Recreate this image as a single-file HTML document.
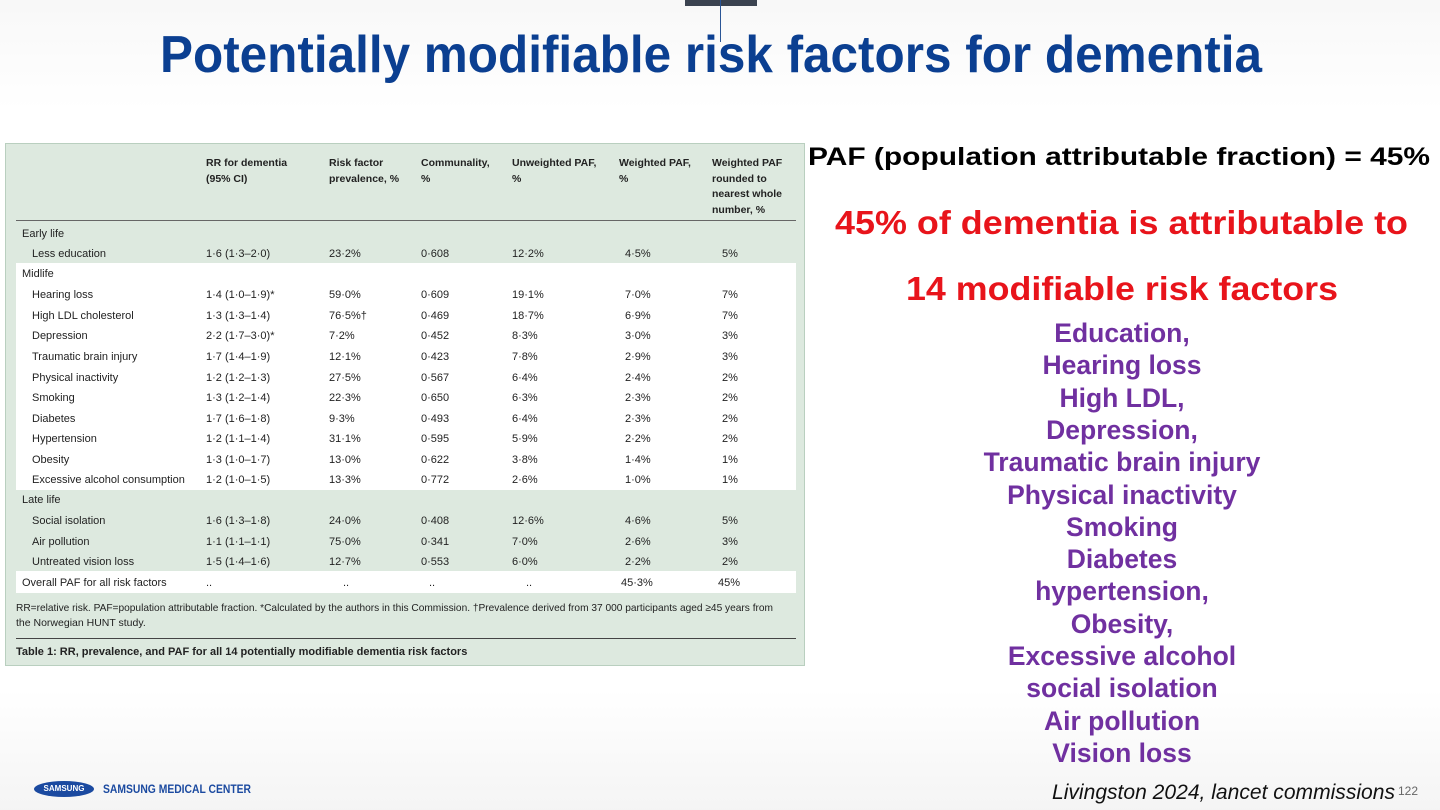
<!DOCTYPE html>
<html><head><meta charset="utf-8">
<style>
*{margin:0;padding:0;box-sizing:border-box}
body{width:1440px;height:810px;position:relative;overflow:hidden;background:#fff;font-family:"Liberation Sans",sans-serif}
.a{position:absolute;white-space:nowrap}
.fit{transform-origin:0 50%}
#tbl{position:absolute;left:5px;top:143px;width:800px;height:523px;background:#dde9df;border:1px solid #b9cfbf}
#tbl .t{position:absolute;white-space:nowrap;font-size:11px;color:#222;font-family:"Liberation Sans",sans-serif;line-height:12px}
.p{color:#7030a0;font-weight:bold;font-size:26.5px;line-height:30px}
</style></head><body>
<div class="a" style="left:0;top:0;width:1440px;height:110px;background:linear-gradient(180deg,#f3f3f3 0%,#fff 100%);opacity:.6"></div>
<div class="a" style="left:0;top:690px;width:1440px;height:120px;background:linear-gradient(0deg,#f0f0f0 0%,#fff 100%);opacity:.7"></div>
<div class="a" style="left:685px;top:0;width:72px;height:6px;background:#3b4350"></div>
<div class="a" style="left:720px;top:0;width:1px;height:42px;background:#2a5596"></div>
<div class="a fit" data-w="1102" style="left:160px;top:25px;font-size:52px;line-height:60px;font-weight:bold;color:#0b3f91">Potentially modifiable risk factors for dementia</div>

<div id="tbl">
 <div class="a" style="left:10px;top:119px;width:780px;height:227px;background:#fff"></div>
 <div class="a" style="left:10px;top:427px;width:780px;height:22px;background:#fff"></div>
 <div class="a" style="left:10px;top:76px;width:780px;height:1px;background:#666"></div>
 <div class="a" style="left:10px;top:494px;width:780px;height:1px;background:#444"></div>
</div>

<div class="a fit" data-w="622" style="left:808px;top:142px;font-size:25px;font-weight:bold;color:#000;line-height:30px">PAF (population attributable fraction) = 45%</div>
<div class="a fit" data-w="573" style="left:835px;top:203px;font-size:33px;font-weight:bold;color:#e8141b;line-height:40px">45% of dementia is attributable to</div>
<div class="a fit" data-w="432" style="left:906px;top:269px;font-size:33px;font-weight:bold;color:#e8141b;line-height:40px">14 modifiable risk factors</div>
<div id="list"></div>
<div class="a fit" data-w="343" style="left:1052px;top:781px;font-size:21px;font-style:italic;color:#111;line-height:24px">Livingston 2024, lancet commissions</div>
<div class="a" style="left:1398px;top:784px;font-size:12px;color:#666">122</div>
<div class="a" style="left:34px;top:781px;width:60px;height:16px;border-radius:50%;background:#1b4aa0;color:#fff;font-size:8px;font-weight:bold;text-align:center;line-height:16px">SAMSUNG</div>
<div class="a fit" data-w="148" style="left:103px;top:781px;font-size:12px;font-weight:bold;color:#1b4aa0;line-height:16px">SAMSUNG MEDICAL CENTER</div>

<script>
const names=["Less education","Hearing loss","High LDL cholesterol","Depression","Traumatic brain injury","Physical inactivity","Smoking","Diabetes","Hypertension","Obesity","Excessive alcohol consumption","Social isolation","Air pollution","Untreated vision loss"];
const rr=["1·6 (1·3–2·0)","1·4 (1·0–1·9)*","1·3 (1·3–1·4)","2·2 (1·7–3·0)*","1·7 (1·4–1·9)","1·2 (1·2–1·3)","1·3 (1·2–1·4)","1·7 (1·6–1·8)","1·2 (1·1–1·4)","1·3 (1·0–1·7)","1·2 (1·0–1·5)","1·6 (1·3–1·8)","1·1 (1·1–1·1)","1·5 (1·4–1·6)"];
const prev=["23·2%","59·0%","76·5%†","7·2%","12·1%","27·5%","22·3%","9·3%","31·1%","13·0%","13·3%","24·0%","75·0%","12·7%"];
const comm=["0·608","0·609","0·469","0·452","0·423","0·567","0·650","0·493","0·595","0·622","0·772","0·408","0·341","0·553"];
const unw=["12·2%","19·1%","18·7%","8·3%","7·8%","6·4%","6·3%","6·4%","5·9%","3·8%","2·6%","12·6%","7·0%","6·0%"];
const wpaf=["4·5%","7·0%","6·9%","3·0%","2·9%","2·4%","2·3%","2·3%","2·2%","1·4%","1·0%","4·6%","2·6%","2·2%"];
const rounded=["5%","7%","7%","3%","3%","2%","2%","2%","2%","1%","1%","5%","3%","2%"];
const listItems=["Education,","Hearing loss","High LDL,","Depression,","Traumatic brain injury","Physical inactivity","Smoking","Diabetes","hypertension,","Obesity,","Excessive alcohol","social isolation","Air pollution","Vision loss"];

const T=document.getElementById('tbl');
function t(x,y,s,name,extra){const d=document.createElement('div');d.className='t';d.style.left=x+'px';d.style.top=(y-6)+'px';d.textContent=s;if(extra)d.style.cssText+=extra;


T.appendChild(d);return d;}
const cols=[200,323,415,506,613,706];
const hdr=[["RR for dementia","(95% CI)"],["Risk factor","prevalence, %"],["Communality,","%"],["Unweighted PAF,","%"],["Weighted PAF,","%"],["Weighted PAF","rounded to","nearest whole","number, %"]];
hdr.forEach((h,i)=>h.forEach((s,j)=>t(cols[i],19+j*15.5,s,'column-header','font-weight:bold;font-size:10.5px')));
const rowY=[110,151,172,192,213,234,254,275,295,316,336,377,398,418];
t(16,90,'Early life','section-early-life');
t(16,130,'Midlife','section-midlife');
t(16,356,'Late life','section-late-life');
names.forEach((n,i)=>{const y=rowY[i];
 t(26,y,n,'row-label');
 t(cols[0],y,rr[i],'rr-cell');t(cols[1],y,prev[i],'prevalence-cell');t(cols[2],y,comm[i],'communality-cell');
 t(cols[3],y,unw[i],'unweighted-paf-cell');t(cols[4]+6,y,wpaf[i],'weighted-paf-cell');t(cols[5]+10,y,rounded[i],'rounded-paf-cell');});
t(16,439,'Overall PAF for all risk factors','overall-label');
[cols[0],cols[1]+14,cols[2]+8,cols[3]+14].forEach(x=>t(x,439,'..','overall-empty'));
t(cols[4]+2,439,'45·3%','overall-weighted');t(cols[5]+6,439,'45%','overall-rounded');
const fn=t(10,464,'RR=relative risk. PAF=population attributable fraction. *Calculated by the authors in this Commission. †Prevalence derived from 37 000 participants aged ≥45 years from','footnote','font-size:10.5px;transform-origin:0 50%');
t(10,479,'the Norwegian HUNT study.','footnote','font-size:10.5px');
t(10,508,'Table 1: RR, prevalence, and PAF for all 14 potentially modifiable dementia risk factors','table-caption','font-weight:bold;font-size:11px');
fn.style.transform='scaleX('+(757/fn.getBoundingClientRect().width)+')';

const L=document.getElementById('list');
listItems.forEach((s,i)=>{const d=document.createElement('div');d.className='a p';d.style.left='822px';d.style.width='600px';d.style.textAlign='center';d.style.top=(318+i*32.3)+'px';d.textContent=s;


L.appendChild(d);});

document.querySelectorAll('.fit').forEach(e=>{const w=+e.dataset.w;const r=e.getBoundingClientRect().width;e.style.transform='scaleX('+(w/r)+')';});
</script>
</body></html>
